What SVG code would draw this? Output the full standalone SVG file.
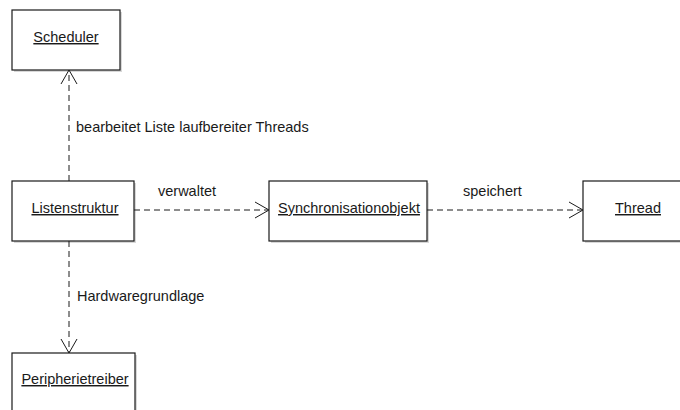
<svg xmlns="http://www.w3.org/2000/svg" width="680" height="410" viewBox="0 0 680 410">
  <style>
    .box { fill: #ffffff; stroke: #1a1a1a; stroke-width: 1.2; }
    .shadow { fill: #d8d8d8; }
    .name { font-family: "Liberation Sans", Arial, sans-serif; font-size: 14.5px; fill: #1a1a1a; text-anchor: middle; text-decoration: underline; }
    .label { font-family: "Liberation Sans", Arial, sans-serif; font-size: 14.5px; fill: #1a1a1a; }
    .dep { fill: none; stroke: #1a1a1a; stroke-width: 1; stroke-dasharray: 6 4; }
    .head { fill: none; stroke: #1a1a1a; stroke-width: 1; }
  </style>
  <rect width="680" height="410" fill="#ffffff"/>

  <g id="scheduler">
    <rect class="shadow" x="14" y="12" width="108" height="60"/>
    <rect class="box" x="12" y="10" width="108" height="60"/>
    <text class="name" x="66" y="42">Scheduler</text>
  </g>

  <g id="listenstruktur">
    <rect class="shadow" x="14" y="183" width="122" height="60"/>
    <rect class="box" x="12" y="181" width="122" height="60"/>
    <text class="name" x="75" y="213">Listenstruktur</text>
  </g>

  <g id="synchronisationobjekt">
    <rect class="shadow" x="271" y="183" width="158" height="60"/>
    <rect class="box" x="269" y="181" width="158" height="60"/>
    <text class="name" x="349" y="213">Synchronisationobjekt</text>
  </g>

  <g id="thread">
    <rect class="shadow" x="585" y="183" width="110" height="60"/>
    <rect class="box" x="583" y="181" width="110" height="60"/>
    <text class="name" x="638" y="213">Thread</text>
  </g>

  <g id="peripherietreiber">
    <rect class="shadow" x="14" y="355" width="123" height="60"/>
    <rect class="box" x="12" y="353" width="123" height="60"/>
    <text class="name" x="75" y="384">Peripherietreiber</text>
  </g>

  <g id="connectors">
    <!-- Listenstruktur -> Scheduler -->
    <line class="dep" x1="69" y1="181" x2="69" y2="71"/>
    <polyline class="head" points="61,84 69,70 77,84"/>
    <text class="label" x="76" y="132">bearbeitet Liste laufbereiter Threads</text>

    <!-- Listenstruktur -> Synchronisationobjekt -->
    <line class="dep" x1="134" y1="210" x2="268" y2="210"/>
    <polyline class="head" points="255,202 269,210 255,218"/>
    <text class="label" x="158" y="196">verwaltet</text>

    <!-- Synchronisationobjekt -> Thread -->
    <line class="dep" x1="427" y1="210" x2="582" y2="210"/>
    <polyline class="head" points="569,202 583,210 569,218"/>
    <text class="label" x="463" y="196">speichert</text>

    <!-- Listenstruktur -> Peripherietreiber -->
    <line class="dep" x1="69" y1="241" x2="69" y2="352"/>
    <polyline class="head" points="61,339 69,353 77,339"/>
    <text class="label" x="77" y="301">Hardwaregrundlage</text>
  </g>
</svg>
